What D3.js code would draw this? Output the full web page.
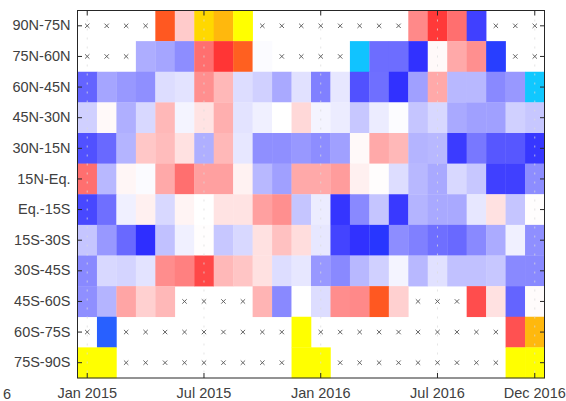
<!DOCTYPE html>
<html>
<head>
<meta charset="utf-8">
<script src="https://cdn.jsdelivr.net/npm/d3@7"></script>
<style>
  html, body { margin: 0; padding: 0; background: #fff; }
  svg { display: block; }
  text { font-family: "Liberation Sans", Arial, Helvetica, sans-serif; }
</style>
</head>
<body>
<svg id="chart" width="566" height="401"></svg>
<script>
// ---- data ----
const latBands = ["90N-75N","75N-60N","60N-45N","45N-30N","30N-15N","15N-Eq.",
                  "Eq.-15S","15S-30S","30S-45S","45S-60S","60S-75S","75S-90S"];
const months = ["2015-01","2015-02","2015-03","2015-04","2015-05","2015-06",
                "2015-07","2015-08","2015-09","2015-10","2015-11","2015-12",
                "2016-01","2016-02","2016-03","2016-04","2016-05","2016-06",
                "2016-07","2016-08","2016-09","2016-10","2016-11","2016-12"];
const xTickMonths = ["2015-01","2015-07","2016-01","2016-07","2016-12"];
const xTickLabels = ["Jan 2015","Jul 2015","Jan 2016","Jul 2016","Dec 2016"];
const N = null; // missing value (drawn as a cross)
const r90N75N = [N,N,N,N,1.17,0.24,1.5,1.42,1.6,N,N,N, N,N,N,N,N,0.55,0.92,0.67,-0.89,N,N,N];
const r75N60N = [N,N,N,-0.38,-0.42,-0.53,0.67,0.94,1.2,-0.02,N,N, N,N,-1.58,-0.68,-0.68,-0.96,0.03,0.40,0.52,-1.08,N,N];
const r60N45N = [-0.72,-0.42,-0.48,-0.52,-0.16,-0.13,0.52,0.33,-0.16,-0.22,-0.40,-0.14, -0.59,-0.11,-0.81,-0.67,-0.96,-0.44,0.40,-0.33,-0.33,-0.55,-0.48,-1.6];
const r45N30N = [-0.22,0.03,-0.37,-0.18,0.33,-0.05,0.13,0.37,-0.13,-0.07,0,0.18, -0.05,-0.09,-0.26,-0.09,-0.014,-0.27,-0.18,-0.40,-0.44,-0.44,-0.22,-0.26];
const r30N15N = [-0.81,-0.70,-0.35,0.26,0.31,0.14,-0.37,0.33,-0.11,-0.52,-0.52,-0.48, -0.53,-0.44,0.03,0.40,0.33,-0.35,-0.33,-0.91,-0.63,-0.78,-0.78,-0.93];
const r15NEq = [0.67,-0.33,0.04,-0.02,0.40,0.67,0.44,0.44,0.06,-0.33,-0.44,0.40, 0.40,0.46,0.07,0.01,-0.16,-0.33,-0.40,-0.18,-0.26,-0.89,-0.89,-0.53];
const rEq15S = [-0.85,-0.67,-0.07,0.07,-0.18,0.05,0,0.13,0.13,0.44,0.52,-0.27, -0.09,-0.94,-0.55,-0.27,-0.92,-0.35,-0.40,-0.40,-0.11,0.14,-0.27,0.01];
const r15S30S = [-0.27,-0.48,-0.70,-0.97,-0.29,-0.07,0.01,-0.26,-0.18,0.14,0.29,0.16, -0.11,-0.87,-0.96,-1.05,-0.53,-0.59,-0.67,-0.70,-0.55,-0.39,-0.07,-0.52];
const r30S45S = [-0.55,-0.18,-0.20,-0.13,0.53,0.59,0.85,0.33,0.27,0.14,-0.16,-0.11, -0.48,-0.55,-0.33,-0.22,-0.05,-0.33,-0.14,-0.29,-0.29,-0.26,-0.55,-0.55];
const r45S60S = [-0.52,-0.35,0.42,0.22,0.33,N,N,N,N,0.35,-0.55,0, -0.16,0.53,0.55,1.17,0.22,N,N,N,0.83,0.14,-0.72,0.02];
const r60S75S = [N,-1.2,N,N,N,N,N,N,N,N,N,1.6, N,N,N,N,N,N,N,N,N,N,0.81,1.42];
const r75S90S = [1.6,1.6,N,N,N,N,N,N,N,N,N,1.6, 1.6,N,N,N,N,N,N,N,N,N,1.6,1.6];
const rows = [r90N75N,r75N60N,r60N45N,r45N30N,r30N15N,r15NEq,rEq15S,r15S30S,r30S45S,r45S60S,r60S75S,r75S90S];

// ---- layout ----
const svg = d3.select("#chart");
const m = {left: 77.5, top: 10.5};
const W = 467, H = 367.5;
const g = svg.append("g").attr("transform", `translate(${m.left},${m.top})`);

const x = d3.scaleBand().domain(months).range([0, W]);
const y = d3.scaleBand().domain(latBands).range([0, H]);
const color = d3.scaleLinear()
  .domain([-1.6, -1.2, -1, 0, 1, 1.2, 1.4, 1.5, 1.6])
  .range(["#10c8ff","#2860ff","#2828ff","#ffffff","#ff2828","#ff6020","#ffb010","#ffd800","#ffff00"])
  .clamp(true);

const cells = [];
rows.forEach((vals, i) => vals.forEach((v, j) => cells.push({band: latBands[i], month: months[j], v})));

g.selectAll("rect.cell").data(cells.filter(d => d.v !== null)).join("rect")
  .attr("class", "cell")
  .attr("x", d => x(d.month)).attr("y", d => y(d.band))
  .attr("width", x.bandwidth() + 0.3).attr("height", y.bandwidth() + 0.3)
  .attr("fill", d => color(d.v));

// dotted vertical grid
g.selectAll("line.grid").data(xTickMonths).join("line")
  .attr("class", "grid")
  .attr("x1", d => x(d) + x.bandwidth() / 2).attr("x2", d => x(d) + x.bandwidth() / 2)
  .attr("y1", 0).attr("y2", H)
  .attr("stroke", "#dcdcdc").attr("stroke-opacity", 0.75)
  .attr("stroke-width", 1).attr("stroke-dasharray", "2,7");

// crosses for missing data
const cs = 2.2;
g.selectAll("path.miss").data(cells.filter(d => d.v === null)).join("path")
  .attr("class", "miss")
  .attr("transform", d => `translate(${x(d.month) + x.bandwidth()/2},${y(d.band) + y.bandwidth()/2})`)
  .attr("d", `M${-cs},${-cs}L${cs},${cs}M${-cs},${cs}L${cs},${-cs}`)
  .attr("stroke", "#555").attr("stroke-width", 0.9).attr("fill", "none");

// axes
const labelMap = new Map(xTickMonths.map((mo, i) => [mo, xTickLabels[i]]));
const axisColor = "#262626";
function style(sel) {
  sel.select(".domain").remove();
  sel.selectAll("line").attr("stroke", axisColor);
  sel.selectAll("text").attr("fill", "#404040").style("font-size", "14.5px")
     .style("font-family", "'Liberation Sans', Arial, sans-serif");
}
g.append("g").attr("transform", `translate(0,${H})`)
  .call(d3.axisBottom(x).tickValues(xTickMonths).tickFormat(d => labelMap.get(d)).tickSizeInner(-5).tickPadding(10))
  .call(style);
g.append("g")
  .call(d3.axisTop(x).tickValues(xTickMonths).tickFormat("").tickSizeInner(-5))
  .call(style);
g.append("g")
  .call(d3.axisLeft(y).tickSizeInner(-4.5).tickPadding(7))
  .call(style);
g.append("g").attr("transform", `translate(${W},0)`)
  .call(d3.axisRight(y).tickFormat("").tickSizeInner(-4.5))
  .call(style);

// frame
g.append("rect").attr("x", 0).attr("y", 0).attr("width", W).attr("height", H)
  .attr("fill", "none").attr("stroke", axisColor).attr("stroke-width", 1);

// clipped label fragment at the left edge
svg.append("text").attr("x", 3).attr("y", 399).text("6")
  .attr("fill", "#404040").style("font-size", "14.5px");
</script>
</body>
</html>
